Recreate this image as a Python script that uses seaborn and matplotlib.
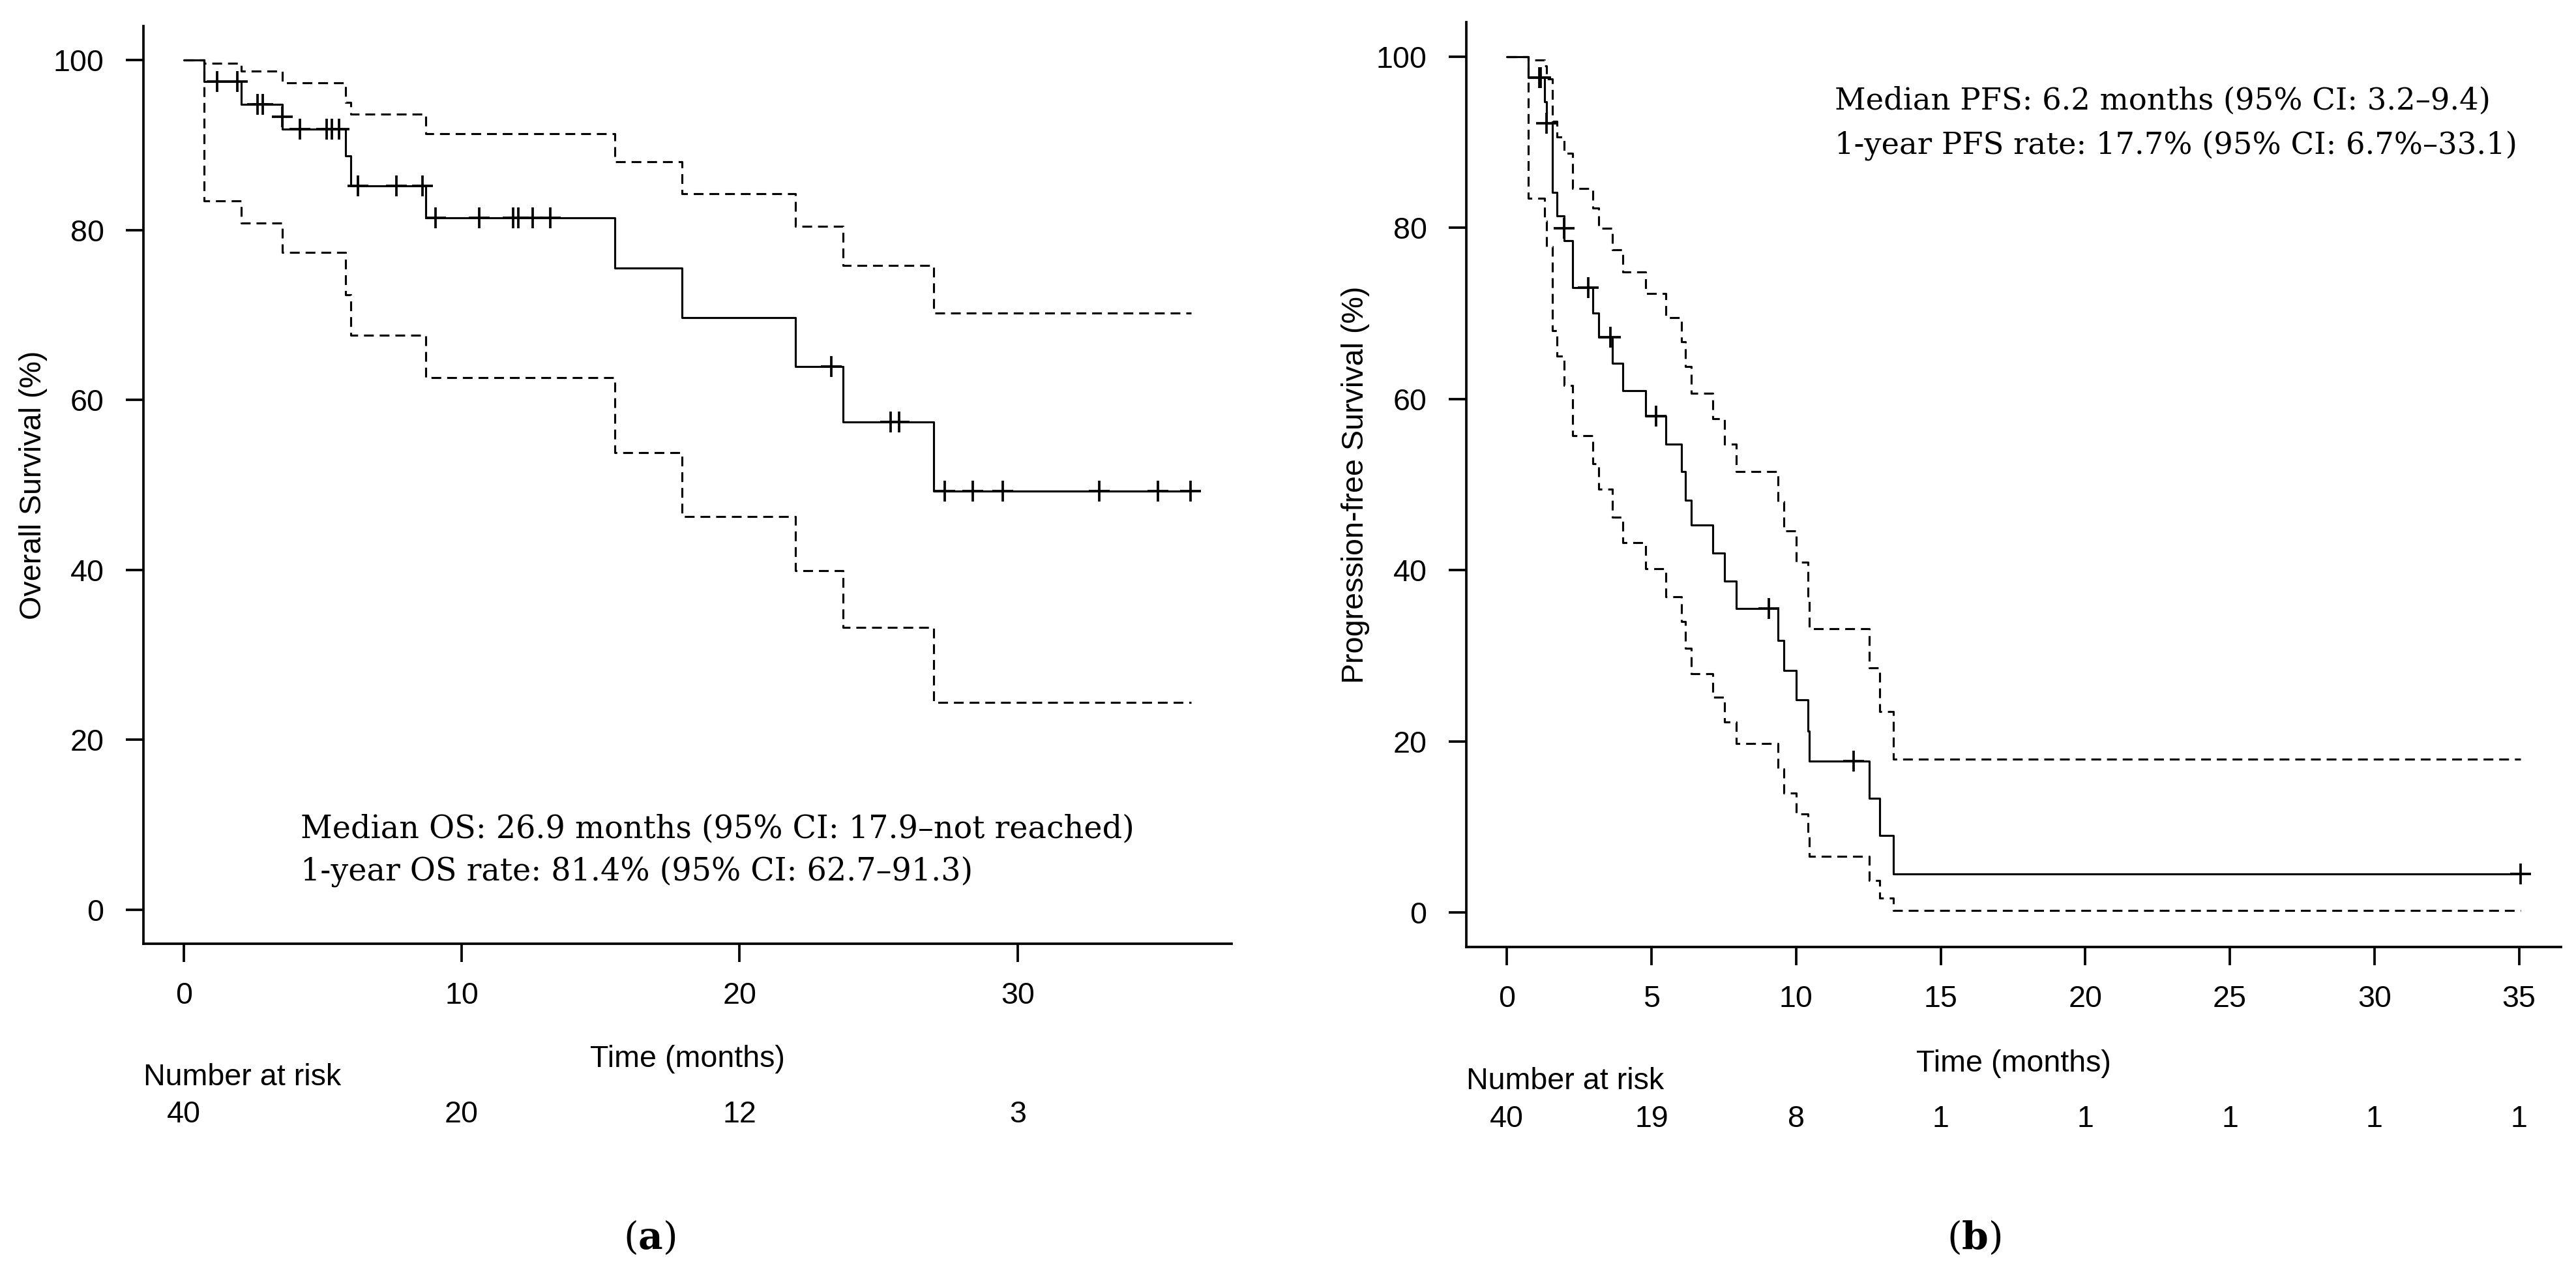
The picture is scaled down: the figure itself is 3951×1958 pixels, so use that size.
import matplotlib
matplotlib.use("Agg")
import matplotlib.pyplot as plt
import seaborn as sns

# ---------------- data ----------------
# Overall survival (panel a)
os_time = [0, 0.72, 2.07, 3.55, 5.81, 6.01, 8.71, 15.5, 17.93, 22.01, 23.72, 26.98]
os_surv = [100, 97.5, 94.8, 91.9, 88.7, 85.2, 81.4, 75.5, 69.7, 63.9, 57.4, 49.3]
os_upper = [100, 99.6, 98.7, 97.3, 95.0, 93.6, 91.3, 88.0, 84.3, 80.4, 75.8, 70.2]
os_lower = [100, 83.4, 80.8, 77.4, 72.4, 67.6, 62.6, 53.8, 46.3, 39.9, 33.2, 24.4]
os_end = 36.25
os_cens_t = [1.2, 1.93, 2.65, 2.85, 3.55, 4.19, 5.14, 5.34, 5.58, 6.26, 7.66, 8.6,
             9.07, 10.62, 11.85, 12.04, 12.55, 13.18, 23.3, 25.43, 25.74, 27.39,
             28.39, 29.46, 32.93, 35.05, 36.23]
os_cens_s = [97.5, 97.5, 94.8, 94.8, 93.3, 91.9, 91.9, 91.9, 91.9, 85.2, 85.2, 85.2,
             81.4, 81.4, 81.4, 81.4, 81.4, 81.4, 63.9, 57.4, 57.4, 49.3,
             49.3, 49.3, 49.3, 49.3, 49.3]
os_xticks = [0, 10, 20, 30]
os_risk = [40, 20, 12, 3]
os_ylabel = "Overall Survival (%)"
os_text = ["Median OS: 26.9 months (95% CI: 17.9\u2013not reached)",
           "1-year OS rate: 81.4% (95% CI: 62.7\u201391.3)"]

# Progression-free survival (panel b)
pfs_time = [0, 0.75, 1.31, 1.37, 1.58, 1.73, 1.99, 2.27, 2.97, 3.17, 3.64, 4.00, 4.80,
            5.50, 6.04, 6.18, 6.37, 7.12, 7.53, 7.94, 9.37, 9.58, 10.01, 10.41, 10.46,
            12.53, 12.89, 13.36]
pfs_surv = [100, 97.5, 94.7, 92.2, 84.1, 81.4, 78.5, 73.0, 70.0, 67.2, 64.2, 61.0, 58.0,
            54.7, 51.5, 48.2, 45.3, 42.0, 38.75, 35.5, 31.8, 28.3, 24.9, 21.2, 17.7,
            13.4, 9.0, 4.5]
pfs_upper = [100, 99.6, 98.9, 97.4, 92.4, 90.6, 88.7, 84.6, 82.3, 79.9, 77.4, 74.8, 72.3,
             69.5, 66.7, 63.8, 60.7, 57.7, 54.7, 51.5, 48.0, 44.6, 40.9, 37.0, 33.2,
             28.6, 23.5, 17.9]
pfs_lower = [100, 83.4, 80.8, 77.8, 68.0, 65.0, 61.6, 55.7, 52.4, 49.5, 46.2, 43.2, 40.2,
             36.9, 34.0, 30.9, 27.9, 25.2, 22.3, 19.8, 16.8, 14.0, 11.5, 8.9, 6.6,
             3.8, 1.7, 0.3]
pfs_end = 35.05
pfs_cens_t = [1.13, 1.17, 1.37, 1.99, 2.82, 3.59, 5.15, 9.05, 12.0, 35.05]
pfs_cens_s = [97.5, 97.5, 92.2, 79.9, 73.0, 67.2, 58.0, 35.5, 17.7, 4.5]
pfs_xticks = [0, 5, 10, 15, 20, 25, 30, 35]
pfs_risk = [40, 19, 8, 1, 1, 1, 1, 1]
pfs_ylabel = "Progression-free Survival (%)"
pfs_text = ["Median PFS: 6.2 months (95% CI: 3.2\u20139.4)",
            "1-year PFS rate: 17.7% (95% CI: 6.7%\u201333.1)"]

yticks = [0, 20, 40, 60, 80, 100]
xlabel = "Time (months)"
risk_title = "Number at risk"
panel_labels = ["a", "b"]

# ---------------- style ----------------
sns.set_style("ticks")
plt.rcParams["font.family"] = ["Liberation Sans", "DejaVu Sans"]
plt.rcParams.update({
    "axes.edgecolor": "black", "text.color": "black", "xtick.color": "black",
    "ytick.color": "black", "axes.labelcolor": "black",
    "mathtext.fontset": "dejavuserif",
})
SERIF = ["DejaVu Serif"]
SANS_SIZE = 11.2
LW = 0.75
DASH = (0, (4.8, 2.9))

W, H, DPI = 3951, 1958, 300
fig = plt.figure(figsize=(W / DPI, H / DPI), dpi=DPI)
fig.patch.set_facecolor("white")
ax1 = fig.add_axes([220 / W, 1 - 1447 / H, (1889 - 220) / W, (1447 - 40) / H])
ax2 = fig.add_axes([2249 / W, 1 - 1452 / H, (3928 - 2249) / W, (1452 - 34) / H])
renderer = fig.canvas.get_renderer()


def fit_size(ax, s, target_px, base=10.0):
    t = ax.text(0, 0, s, family=SERIF, fontsize=base)
    w = t.get_window_extent(renderer=renderer).width
    t.remove()
    return base * target_px / w


def draw_km(ax, times, surv, upper, lower, end, ct, cs, xticks, risk, ylabel,
            text, text_x, text_y, text_target):
    x = list(times) + [end]
    for vals, ls in [(upper, DASH), (lower, DASH), (surv, "-")]:
        y = list(vals) + [vals[-1]]
        sns.lineplot(x=x, y=y, drawstyle="steps-post", estimator=None, sort=False,
                     color="black", linewidth=LW, linestyle=ls, ax=ax)
    sns.scatterplot(x=ct, y=cs, marker="+", s=60, color="black", linewidth=0.9,
                    ax=ax, zorder=4)
    xmax = end
    ax.set_xlim(-0.04 * xmax, 1.04 * xmax)
    ax.set_ylim(-4, 104)
    ax.set_xticks(xticks)
    ax.set_yticks(yticks)
    ax.set_xticklabels([str(v) for v in xticks])
    ax.set_yticklabels([str(v) for v in yticks])
    for sp in ["top", "right"]:
        ax.spines[sp].set_visible(False)
    for sp in ["left", "bottom"]:
        ax.spines[sp].set_linewidth(0.9)
        ax.spines[sp].set_color("black")
    ax.tick_params(axis="both", direction="out", length=6.6, width=0.9,
                   labelsize=SANS_SIZE, bottom=True, left=True)
    ax.tick_params(axis="x", pad=7.4)
    ax.tick_params(axis="y", pad=7.9)
    ax.set_ylabel(ylabel, fontsize=SANS_SIZE)
    ax.yaxis.set_label_coords(-0.088, 0.5)
    ax.set_xlabel(xlabel, fontsize=SANS_SIZE, va="center")
    ax.xaxis.set_label_coords(0.5, -0.126)
    ax.text(0, -0.1455, risk_title, transform=ax.transAxes, ha="left", va="center",
            fontsize=SANS_SIZE)
    for t, n in zip(xticks, risk):
        ax.text(t, -0.1865, str(n), transform=ax.get_xaxis_transform(),
                ha="center", va="center", fontsize=SANS_SIZE)
    idx, target = text_target
    size = fit_size(ax, text[idx], target)
    for line, yy in zip(text, text_y):
        ax.text(text_x, yy, line, family=SERIF, fontsize=size, ha="left",
                va="baseline")


draw_km(ax1, os_time, os_surv, os_upper, os_lower, os_end, os_cens_t, os_cens_s,
        os_xticks, os_risk, os_ylabel, os_text, 4.21, [8.5, 3.46], (0, 1280))
draw_km(ax2, pfs_time, pfs_surv, pfs_upper, pfs_lower, pfs_end, pfs_cens_t, pfs_cens_s,
        pfs_xticks, pfs_risk, pfs_ylabel, pfs_text, 11.34, [93.8, 88.6], (1, 1045))

for lab, xc in zip(panel_labels, [996 / W, 3028 / W]):
    fig.text(xc, 1 - 1898 / H, r"($\mathbf{%s}$)" % lab, family=SERIF, fontsize=14,
             ha="center", va="center")

fig.savefig("out.png", dpi=DPI, facecolor="white")
